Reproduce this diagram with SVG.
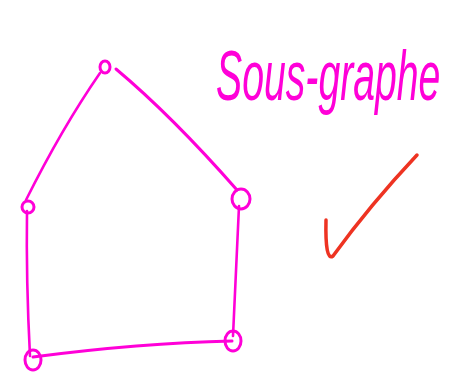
<svg xmlns="http://www.w3.org/2000/svg" width="458" height="386" viewBox="0 0 458 386">
<style>
.e{fill:none;stroke:#ff00d8;stroke-width:2.6;stroke-linecap:round;stroke-linejoin:round}
.n{fill:none;stroke:#ff00d8;stroke-width:3}
.t{fill:#ff00d8;font-family:"Liberation Sans",Arial,sans-serif;font-style:italic;font-size:70px}
</style>
<rect width="458" height="386" fill="#ffffff"/>
<g id="connectors">
<path class="e" d="M100,73 Q62,128 26,200"/>
<path class="e" d="M116,69 Q172,116 237,190" style="stroke-width:3"/>
<path class="e" d="M27,211 Q26,280 30,356"/>
<path class="e" d="M239,206 Q236,270 233,336"/>
<path class="e" d="M33,357 Q140,343 232,341" style="stroke-width:3"/>
</g>
<g id="node-top"><ellipse class="n" cx="105" cy="67" rx="5" ry="6"/></g>
<g id="node-left"><ellipse class="n" cx="28" cy="207" rx="6" ry="6"/></g>
<g id="node-right"><ellipse class="n" cx="241" cy="199" rx="9" ry="10"/></g>
<g id="node-bottom-left"><ellipse class="n" cx="33" cy="360" rx="8" ry="10"/></g>
<g id="node-bottom-right"><ellipse class="n" cx="233" cy="341" rx="8" ry="10"/></g>
<g id="label"><text class="t" transform="translate(216,100) scale(0.56,1)" x="0" y="0">Sous-graphe</text></g>
<g id="check"><path d="M326,220 Q325,262 333,256 Q370,205 417,155" fill="none" stroke="#ee3322" stroke-width="3.5" stroke-linecap="round" stroke-linejoin="round"/></g>
</svg>
